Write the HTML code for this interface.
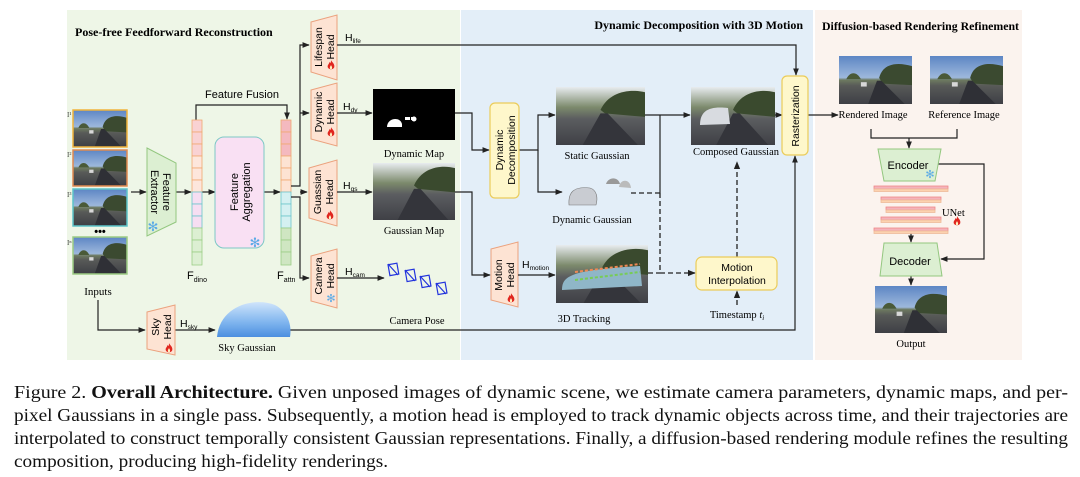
<!DOCTYPE html>
<html><head><meta charset="utf-8"><style>
html,body{margin:0;padding:0;background:#fff;}
svg{display:block;}
.s{font-family:"Liberation Sans",sans-serif;}
.r{font-family:"Liberation Serif",serif;}
</style></head><body>
<svg width="1080" height="477" viewBox="0 0 1080 477" xmlns="http://www.w3.org/2000/svg">
<defs>
<marker id="a" viewBox="0 0 10 10" refX="9" refY="5" markerWidth="6" markerHeight="6" orient="auto"><path d="M0,1 L10,5 L0,9z" fill="#222"/></marker>
<linearGradient id="sky" x1="0" y1="0" x2="0" y2="1"><stop offset="0" stop-color="#5d86c4"/><stop offset="0.45" stop-color="#9db8dc"/><stop offset="0.5" stop-color="#6d7a60"/><stop offset="0.62" stop-color="#585a58"/><stop offset="1" stop-color="#3e3f45"/></linearGradient>
<linearGradient id="scene" x1="0" y1="0" x2="0" y2="1"><stop offset="0" stop-color="#e8ecef"/><stop offset="0.35" stop-color="#7c8a6c"/><stop offset="0.55" stop-color="#5b5d60"/><stop offset="1" stop-color="#3f4046"/></linearGradient>
<linearGradient id="dome" x1="0" y1="0" x2="0" y2="1"><stop offset="0" stop-color="#cfe4fb"/><stop offset="0.6" stop-color="#7db3ee"/><stop offset="1" stop-color="#4c8fe0"/></linearGradient>
<symbol id="road" viewBox="0 0 100 66" preserveAspectRatio="none">
<rect width="100" height="66" fill="url(#sky)"/>
<path d="M55,30 C60,10 80,8 100,14 L100,40 L60,38z" fill="#3b4a30"/>
<path d="M10,32 C14,22 24,20 30,32z" fill="#4a5a38"/>
<path d="M40,66 L52,34 L58,34 L90,66z" fill="#2f3036"/>
<rect x="30" y="36" width="8" height="6" fill="#d8d8d8"/>
</symbol>
<symbol id="scn" viewBox="0 0 100 66" preserveAspectRatio="none">
<rect width="100" height="66" fill="url(#scene)"/>
<path d="M50,26 C60,4 85,2 100,6 L100,34 L55,30z" fill="#3a4a2e"/>
<path d="M30,66 L50,30 L58,30 L92,66z" fill="#34353b"/>
</symbol>
<symbol id="fl" viewBox="0 0 10 12">
<path d="M5,0 C7,3 10,5 9,9 C8,12 2,12 1,9 C0,6 3,5 3,2 C4,4 5,4 5,0z" fill="#e0261f"/>
<path d="M5,6 C6,8 7,9 6,11 L4,11 C3,9 4,8 5,6z" fill="#fff3c0"/>
</symbol>
</defs>

<!-- panels -->
<rect x="67" y="10" width="393" height="350" fill="#eef6e7"/>
<rect x="461" y="10" width="352" height="350" fill="#e3eef8"/>
<rect x="815" y="10" width="207" height="350" fill="#fbf3ee"/>

<text x="75" y="36" class="r" font-size="12" font-weight="bold">Pose-free Feedforward Reconstruction</text>
<text x="803" y="29" class="r" font-size="12" font-weight="bold" text-anchor="end">Dynamic Decomposition with 3D Motion</text>
<text x="822" y="30" class="r" font-size="12" font-weight="bold" textLength="197" lengthAdjust="spacingAndGlyphs">Diffusion-based Rendering Refinement</text>

<!-- inputs -->
<g stroke-width="1.5">
<use href="#road" x="73" y="110" width="54" height="37"/><rect x="73" y="110" width="54" height="37" fill="none" stroke="#f0b43c"/>
<use href="#road" x="73" y="150" width="54" height="36"/><rect x="73" y="150" width="54" height="36" fill="none" stroke="#e08a50"/>
<use href="#road" x="73" y="189" width="54" height="37"/><rect x="73" y="189" width="54" height="37" fill="none" stroke="#5cc4c8"/>
<use href="#road" x="73" y="237" width="54" height="37"/><rect x="73" y="237" width="54" height="37" fill="none" stroke="#9ccc84"/>
</g>
<g class="r" font-size="7" fill="#444"><text x="67" y="117">I¹</text><text x="67" y="157">I²</text><text x="67" y="197">I³</text><text x="67" y="245">Iⁿ</text></g>
<text x="100" y="235" class="s" font-size="11" text-anchor="middle" font-weight="bold">•••</text>
<text x="98" y="295" class="r" font-size="11" text-anchor="middle">Inputs</text>

<g stroke="#222" stroke-width="1.2" fill="none" marker-end="url(#a)">
<line x1="131" y1="192" x2="146" y2="192"/>
<line x1="176" y1="192" x2="191" y2="192"/>
<line x1="202" y1="192" x2="215" y2="192"/>
<line x1="264" y1="192" x2="280" y2="192"/>
<polyline points="196,120 196,105 287,105 287,119"/>
<polyline points="98,300 98,330 145,330"/>
<line x1="175" y1="330" x2="215" y2="330"/>
</g>

<!-- feature extractor -->
<polygon points="147,148 176,163 176,222 147,236" fill="#dcefd2" stroke="#93c77f" stroke-width="1"/>
<text transform="translate(161,192) rotate(90)" class="s" font-size="11" text-anchor="middle"><tspan x="0" y="-2">Feature</tspan><tspan x="0" y="10">Extractor</tspan></text>
<text x="153" y="231" font-size="13" fill="#5aaae6" text-anchor="middle" class="s">✻</text>

<!-- F columns -->
<g stroke-width="0.8">
<g stroke="#f0a870"><rect x="192" y="120" width="10" height="12" fill="#f9d2d3"/><rect x="192" y="132" width="10" height="12" fill="#f9d2d3"/><rect x="192" y="144" width="10" height="12" fill="#f9d2d3"/><rect x="192" y="156" width="10" height="12" fill="#fde6dc"/><rect x="192" y="168" width="10" height="12" fill="#fde6dc"/><rect x="192" y="180" width="10" height="12" fill="#fde6dc"/></g>
<g stroke="#6cc6cb"><rect x="192" y="192" width="10" height="12" fill="#f6def2"/><rect x="192" y="204" width="10" height="12" fill="#f6def2"/><rect x="192" y="216" width="10" height="12" fill="#f6def2"/></g>
<g stroke="#9cce86"><rect x="192" y="228" width="10" height="12" fill="#dcefd2"/><rect x="192" y="240" width="10" height="12" fill="#dcefd2"/><rect x="192" y="252" width="10" height="13" fill="#dcefd2"/></g>
<g stroke="#f0a870"><rect x="281" y="120" width="10" height="12" fill="#f4b9bf"/><rect x="281" y="132" width="10" height="12" fill="#f4b9bf"/><rect x="281" y="144" width="10" height="12" fill="#f4b9bf"/><rect x="281" y="156" width="10" height="12" fill="#fde3d3"/><rect x="281" y="168" width="10" height="12" fill="#fde3d3"/><rect x="281" y="180" width="10" height="12" fill="#fde3d3"/></g>
<g stroke="#6cc6cb"><rect x="281" y="192" width="10" height="12" fill="#d4f0f1"/><rect x="281" y="204" width="10" height="12" fill="#d4f0f1"/><rect x="281" y="216" width="10" height="12" fill="#d4f0f1"/></g>
<g stroke="#9cce86"><rect x="281" y="228" width="10" height="12" fill="#cfe6c2"/><rect x="281" y="240" width="10" height="12" fill="#cfe6c2"/><rect x="281" y="252" width="10" height="13" fill="#cfe6c2"/></g>
</g>
<text x="187" y="279" class="s" font-size="11">F<tspan font-size="7" dy="3">dino</tspan></text>
<text x="277" y="279" class="s" font-size="11">F<tspan font-size="7" dy="3">attn</tspan></text>
<text x="242" y="98" class="s" font-size="11" text-anchor="middle">Feature Fusion</text>

<!-- feature aggregation -->
<rect x="215" y="137" width="49" height="111" rx="9" fill="#f9e0f3" stroke="#7dc8c6" stroke-width="1"/>
<text transform="translate(240,192) rotate(-90)" class="s" font-size="11" text-anchor="middle"><tspan x="0" y="-2">Feature</tspan><tspan x="0" y="10">Aggregation</tspan></text>
<text x="255" y="247" font-size="13" fill="#5aaae6" text-anchor="middle" class="s">✻</text>

<!-- branches to heads -->
<g stroke="#222" stroke-width="1.2" fill="none" marker-end="url(#a)">
<polyline points="291,186 300,186 300,45 309,45"/>
<line x1="300" y1="113" x2="309" y2="113"/>
<line x1="300" y1="192" x2="307" y2="192"/>
<polyline points="291,197 300,197 300,278 309,278"/>
</g>

<!-- heads -->
<g fill="#fde3d3" stroke="#eba27e" stroke-width="1">
<polygon points="311,22 337,15 337,80 311,72"/>
<polygon points="311,90 337,83 337,146 311,139"/>
<polygon points="309,168 337,160 337,226 309,218"/>
<polygon points="311,256 337,249 337,308 311,301"/>
<polygon points="147,312 175,305 175,355 147,349"/>
<polygon points="491,249 518,242 518,307 491,300"/>
</g>
<g class="s" font-size="10.5" text-anchor="middle">
<text transform="translate(324,47) rotate(-90)"><tspan x="0" y="-2">Lifespan</tspan><tspan x="0" y="10">Head</tspan></text>
<text transform="translate(324,112) rotate(-90)"><tspan x="0" y="-2">Dynamic</tspan><tspan x="0" y="10">Head</tspan></text>
<text transform="translate(323,192) rotate(-90)"><tspan x="0" y="-2">Guassian</tspan><tspan x="0" y="10">Head</tspan></text>
<text transform="translate(324,276) rotate(-90)"><tspan x="0" y="-2">Camera</tspan><tspan x="0" y="10">Head</tspan></text>
<text transform="translate(161,327) rotate(-90)"><tspan x="0" y="-2">Sky</tspan><tspan x="0" y="10">Head</tspan></text>
<text transform="translate(504,275) rotate(-90)"><tspan x="0" y="-2">Motion</tspan><tspan x="0" y="10">Head</tspan></text>
</g>
<use href="#fl" x="327" y="60" width="8" height="10"/>
<use href="#fl" x="327" y="127" width="8" height="10"/>
<use href="#fl" x="326" y="210" width="8" height="10"/>
<use href="#fl" x="165" y="343" width="8" height="10"/>
<use href="#fl" x="507" y="293" width="8" height="10"/>
<use href="#fl" x="953" y="216" width="8" height="10"/>
<use href="#fl" x="930" y="264" width="8" height="10"/>
<text x="331" y="302" font-size="11" fill="#5aaae6" text-anchor="middle" class="s">✻</text>

<g class="s" font-size="10.5">
<text x="345" y="41">H<tspan font-size="6.5" dy="2">life</tspan></text>
<text x="343" y="110">H<tspan font-size="6.5" dy="2">dy</tspan></text>
<text x="343" y="189">H<tspan font-size="6.5" dy="2">gs</tspan></text>
<text x="345" y="275">H<tspan font-size="6.5" dy="2">cam</tspan></text>
<text x="180" y="327">H<tspan font-size="6.5" dy="2">sky</tspan></text>
<text x="522" y="268">H<tspan font-size="6.5" dy="2">motion</tspan></text>
</g>

<g stroke="#222" stroke-width="1.2" fill="none" marker-end="url(#a)">
<polyline points="337,45 796,45 796,75"/>
<line x1="337" y1="113" x2="372" y2="113"/>
<line x1="337" y1="192" x2="372" y2="192"/>
<line x1="337" y1="278" x2="384" y2="278"/>
<polyline points="290,330 795,330 795,156"/>
<polyline points="455,113 472,113 472,150 489,150"/>
<polyline points="455,192 472,192 472,275 490,275"/>
<line x1="518" y1="275" x2="555" y2="275"/>
<polyline points="519,150 538,150 538,115 555,115"/>
<polyline points="538,150 538,192 562,192"/>
<line x1="645" y1="115" x2="690" y2="115"/>
<line x1="775" y1="115" x2="782" y2="115"/>
<line x1="808" y1="115" x2="838" y2="115"/>
</g>
<line x1="660" y1="115" x2="660" y2="193" stroke="#222" stroke-width="1.2"/>
<g stroke="#222" stroke-width="1.3" fill="none" stroke-dasharray="5,3">
<line x1="631" y1="193" x2="660" y2="193"/>
<polyline points="660,193 660,273 695,273" marker-end="url(#a)"/>
<line x1="648" y1="273" x2="660" y2="273"/>
<line x1="737" y1="257" x2="737" y2="162" marker-end="url(#a)"/>
<line x1="737" y1="305" x2="737" y2="291" marker-end="url(#a)"/>
</g>

<!-- dynamic map -->
<rect x="373" y="89" width="82" height="51" fill="#000"/>
<path d="M387,127 C387,118 400,116 402,124 L402,127z" fill="#fff"/>
<rect x="405" y="117" width="5" height="3" fill="#fff"/><rect x="411" y="117" width="4" height="3" fill="#fff"/><circle cx="414" cy="119" r="2.5" fill="#fff"/>
<text x="414" y="157" class="r" font-size="10.5" text-anchor="middle">Dynamic Map</text>
<use href="#scn" x="373" y="163" width="82" height="57"/>
<text x="414" y="234" class="r" font-size="10.5" text-anchor="middle">Gaussian Map</text>
<g stroke="#2233dd" stroke-width="1.2" fill="none">
<rect x="389" y="264" width="9" height="11" transform="rotate(-10 393 270)"/><line x1="388" y1="264" x2="398" y2="275"/>
<rect x="406" y="270" width="9" height="11" transform="rotate(-10 410 275)"/><line x1="405" y1="270" x2="415" y2="281"/>
<rect x="421" y="276" width="9" height="11" transform="rotate(-10 425 281)"/><line x1="420" y1="276" x2="430" y2="287"/>
<rect x="437" y="283" width="9" height="11" transform="rotate(-10 441 288)"/><line x1="436" y1="283" x2="446" y2="294"/>
</g>
<text x="417" y="324" class="r" font-size="10.5" text-anchor="middle">Camera Pose</text>
<path d="M217,337 C220,305 255,297 275,305 C288,312 292,325 290,337z" fill="url(#dome)"/>
<text x="247" y="351" class="r" font-size="10.5" text-anchor="middle">Sky Gaussian</text>

<!-- yellow boxes -->
<g fill="#fef7cb" stroke="#ebcc5a" stroke-width="1.2">
<rect x="490" y="103" width="29" height="95" rx="5"/>
<rect x="782" y="76" width="26" height="79" rx="5"/>
<rect x="696" y="257" width="81" height="33" rx="6"/>
</g>
<text transform="translate(505,150) rotate(-90)" class="s" font-size="10.5" text-anchor="middle"><tspan x="0" y="-2">Dynamic</tspan><tspan x="0" y="10">Decomposition</tspan></text>
<text transform="translate(799,116) rotate(-90)" class="s" font-size="10.5" text-anchor="middle">Rasterization</text>
<text x="737" y="271" class="s" font-size="10.5" text-anchor="middle">Motion</text>
<text x="737" y="284" class="s" font-size="10.5" text-anchor="middle">Interpolation</text>

<use href="#scn" x="556" y="87" width="89" height="58"/>
<text x="597" y="159" class="r" font-size="10.5" text-anchor="middle">Static Gaussian</text>
<path d="M569,205 C568,192 574,186 590,188 C597,190 598,198 596,205z" fill="#c9ccd2" stroke="#777" stroke-width="0.6"/>
<path d="M606,184 C608,177 618,176 620,184z" fill="#999"/><path d="M619,187 C620,179 630,178 631,188z" fill="#bbb"/>
<text x="592" y="223" class="r" font-size="10.5" text-anchor="middle">Dynamic Gaussian</text>
<use href="#scn" x="691" y="87" width="84" height="58"/>
<path d="M700,125 C700,110 710,106 728,108 L730,124z" fill="#d8dbe0"/>
<text x="736" y="155" class="r" font-size="10.5" text-anchor="middle">Composed Gaussian</text>
<use href="#scn" x="556" y="245" width="92" height="58"/>
<path d="M562,290 C562,276 570,270 640,266 L642,286z" fill="#8fb6c8"/>
<path d="M575,272 L640,264" stroke="#e85" stroke-width="2" stroke-dasharray="3,2"/>
<path d="M575,280 L640,272" stroke="#7c5" stroke-width="2" stroke-dasharray="3,2"/>
<text x="584" y="322" class="r" font-size="10.5" text-anchor="middle">3D Tracking</text>
<text x="737" y="318" class="r" font-size="10.5" text-anchor="middle">Timestamp <tspan font-style="italic">t</tspan><tspan font-style="italic" font-size="7" dy="2">i</tspan></text>

<!-- right panel -->
<use href="#road" x="839" y="56" width="73" height="48"/>
<use href="#road" x="930" y="56" width="73" height="48"/>
<text x="873" y="118" class="r" font-size="10.5" text-anchor="middle">Rendered Image</text>
<text x="964" y="118" class="r" font-size="10.5" text-anchor="middle">Reference Image</text>
<g stroke="#222" stroke-width="1.2" fill="none">
<polyline points="871,129 871,138 957,138 957,129"/>
<line x1="909" y1="138" x2="909" y2="148" marker-end="url(#a)"/>
<polyline points="938,164 984,164 984,259 941,259" marker-end="url(#a)"/>
<line x1="911" y1="232" x2="911" y2="242" marker-end="url(#a)"/>
<line x1="911" y1="276" x2="911" y2="285" marker-end="url(#a)"/>
</g>
<polygon points="878,149 941,149 935,181 884,181" fill="#dcefd2" stroke="#93c77f"/>
<text x="908" y="169" class="s" font-size="11" text-anchor="middle">Encoder</text>
<text x="930" y="178" font-size="11" fill="#5aaae6" text-anchor="middle" class="s">✻</text>
<g stroke-width="0.8">
<rect x="874" y="186" width="74" height="3" fill="#f4b3bb" stroke="#e88"/><rect x="874" y="189" width="74" height="2.5" fill="#fcd2b0" stroke="#eb9"/>
<rect x="881" y="197" width="60" height="3" fill="#f4b3bb" stroke="#e88"/><rect x="881" y="200" width="60" height="2.5" fill="#fcd2b0" stroke="#eb9"/>
<rect x="886" y="207" width="49" height="3" fill="#f4b3bb" stroke="#e88"/><rect x="886" y="210" width="49" height="2.5" fill="#fcd2b0" stroke="#eb9"/>
<rect x="881" y="217" width="60" height="3" fill="#f4b3bb" stroke="#e88"/><rect x="881" y="220" width="60" height="2.5" fill="#fcd2b0" stroke="#eb9"/>
<rect x="874" y="228" width="74" height="3" fill="#f4b3bb" stroke="#e88"/><rect x="874" y="231" width="74" height="2.5" fill="#fcd2b0" stroke="#eb9"/>
</g>
<text x="942" y="216" class="r" font-size="10.5">UNet</text>
<polygon points="884,243 937,243 942,276 880,276" fill="#dcefd2" stroke="#93c77f"/>
<text x="910" y="265" class="s" font-size="11" text-anchor="middle">Decoder</text>
<use href="#road" x="875" y="286" width="72" height="47"/>
<text x="911" y="347" class="r" font-size="10.5" text-anchor="middle">Output</text>

<!-- caption -->
<g class="r" font-size="18" fill="#111">
<text x="14" y="398" textLength="1054" lengthAdjust="spacingAndGlyphs">Figure 2.  <tspan font-weight="bold">Overall Architecture.</tspan>   Given unposed images of dynamic scene, we estimate camera parameters, dynamic maps, and per-</text>
<text x="14" y="421" textLength="1054" lengthAdjust="spacingAndGlyphs">pixel Gaussians in a single pass. Subsequently, a motion head is employed to track dynamic objects across time, and their trajectories are</text>
<text x="14" y="444" textLength="1054" lengthAdjust="spacingAndGlyphs">interpolated to construct temporally consistent Gaussian representations. Finally, a diffusion-based rendering module refines the resulting</text>
<text x="14" y="467" textLength="374" lengthAdjust="spacingAndGlyphs">composition, producing high-fidelity renderings.</text>
</g>
</svg>
</body></html>
